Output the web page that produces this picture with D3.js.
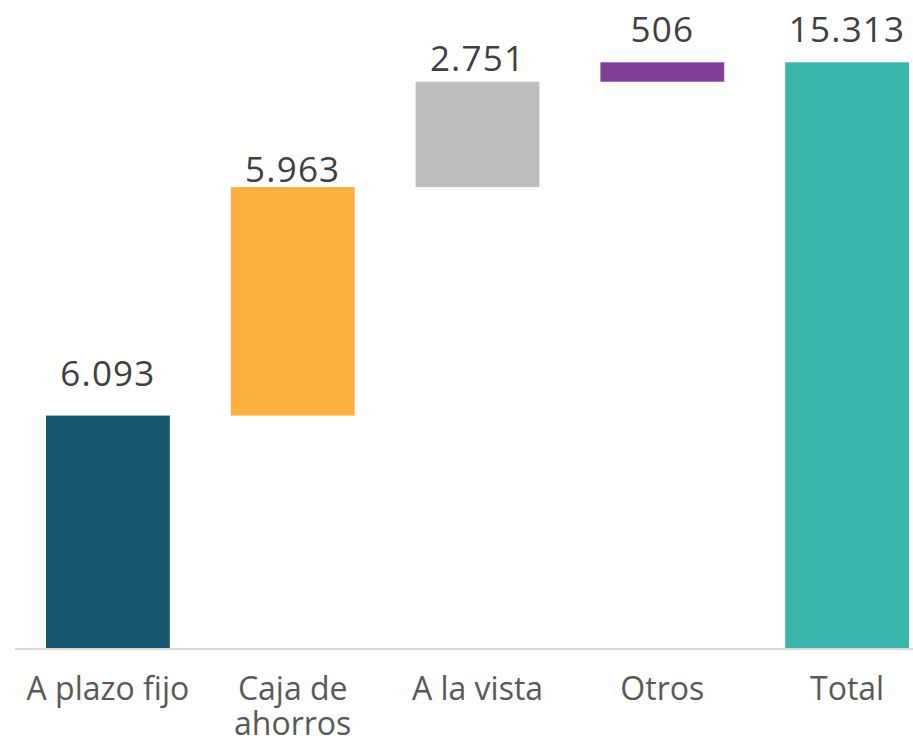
<!DOCTYPE html>
<html lang="es">

<head>
	<meta charset="UTF-8">
	<title>Depósitos</title>
	<style type="text/css">
		body { margin: 0; background: #fff; }
		text { font-family: "Open Sans", "DejaVu Sans", sans-serif; }
	</style>
</head>

<body>
	<div id="chart"></div>

	<script src="https://d3js.org/d3.v7.min.js"></script>
	<script>
		// data
		var categories = ['A plazo fijo', 'Caja de ahorros', 'A la vista', 'Otros', 'Total'];
		var values = [6093, 5963, 2751, 506, 15313];
		var isTotal = [false, false, false, false, true];
		var valueLabels = ['6.093', '5.963', '2.751', '506', '15.313'];

		var colors = ['#17566f', '#fbb040', '#bcbec0', '#7f3f98', '#3ab5aa'];
		// gap between label baseline and bar top (labels were hand-placed in the original)
		var labelGap = [30, 5, 11, 20, 20];

		var width = 913, height = 741;

		var svg = d3.select('#chart')
			.append('svg')
			.attr('width', width)
			.attr('height', height);

		var xScale = d3.scaleBand()
			.domain(categories)
			.range([46, 909])
			.paddingInner(0.33)
			.paddingOuter(0);

		var yScale = d3.scaleLinear()
			.domain([0, 16000])
			.range([649, 36]);

		// running start/end for the waterfall steps
		var rows = [];
		var run = 0;
		categories.forEach((c, i) => {
			var start = isTotal[i] ? 0 : run;
			var end = isTotal[i] ? values[i] : run + values[i];
			if (!isTotal[i]) run = end;
			rows.push({ cat: c, start: start, end: end, label: valueLabels[i], i: i });
		});

		svg.selectAll('rect.bar')
			.data(rows)
			.enter()
			.append('rect')
			.attr('class', 'bar')
			.attr('x', d => xScale(d.cat))
			.attr('width', xScale.bandwidth())
			.attr('y', d => yScale(d.end))
			.attr('height', d => yScale(d.start) - yScale(d.end))
			.attr('fill', d => colors[d.i]);

		svg.selectAll('text.value')
			.data(rows)
			.enter()
			.append('text')
			.attr('class', 'value')
			.attr('x', d => xScale(d.cat) + xScale.bandwidth() / 2)
			.attr('y', d => yScale(d.end) - labelGap[d.i])
			.attr('text-anchor', 'middle')
			.attr('font-size', 35)
			.attr('letter-spacing', 1.2)
			.attr('fill', '#404040')
			.text(d => d.label);

		// x axis: just the baseline and the category names
		var xAxis = svg.append('g')
			.attr('class', 'x axis')
			.attr('transform', 'translate(0, 649)')
			.call(d3.axisBottom(xScale).tickSize(0).tickPadding(0));

		xAxis.select('.domain').remove();
		xAxis.append('line')
			.attr('x1', 15)
			.attr('x2', width)
			.attr('stroke', '#d9d9d9')
			.attr('stroke-width', 2);

		xAxis.selectAll('.tick text').remove();
		xAxis.selectAll('.tick').each(function (d) {
			var lines = d === 'Caja de ahorros' ? ['Caja de', 'ahorros'] : [d];
			var tick = d3.select(this);
			lines.forEach((l, k) => {
				tick.append('text')
					.attr('text-anchor', 'middle')
					.attr('font-size', 32)
					.attr('fill', '#595959')
					.attr('x', 0)
					.attr('y', 51 + k * 35)
					.text(l);
			});
		});

	</script>
</body>

</html>
